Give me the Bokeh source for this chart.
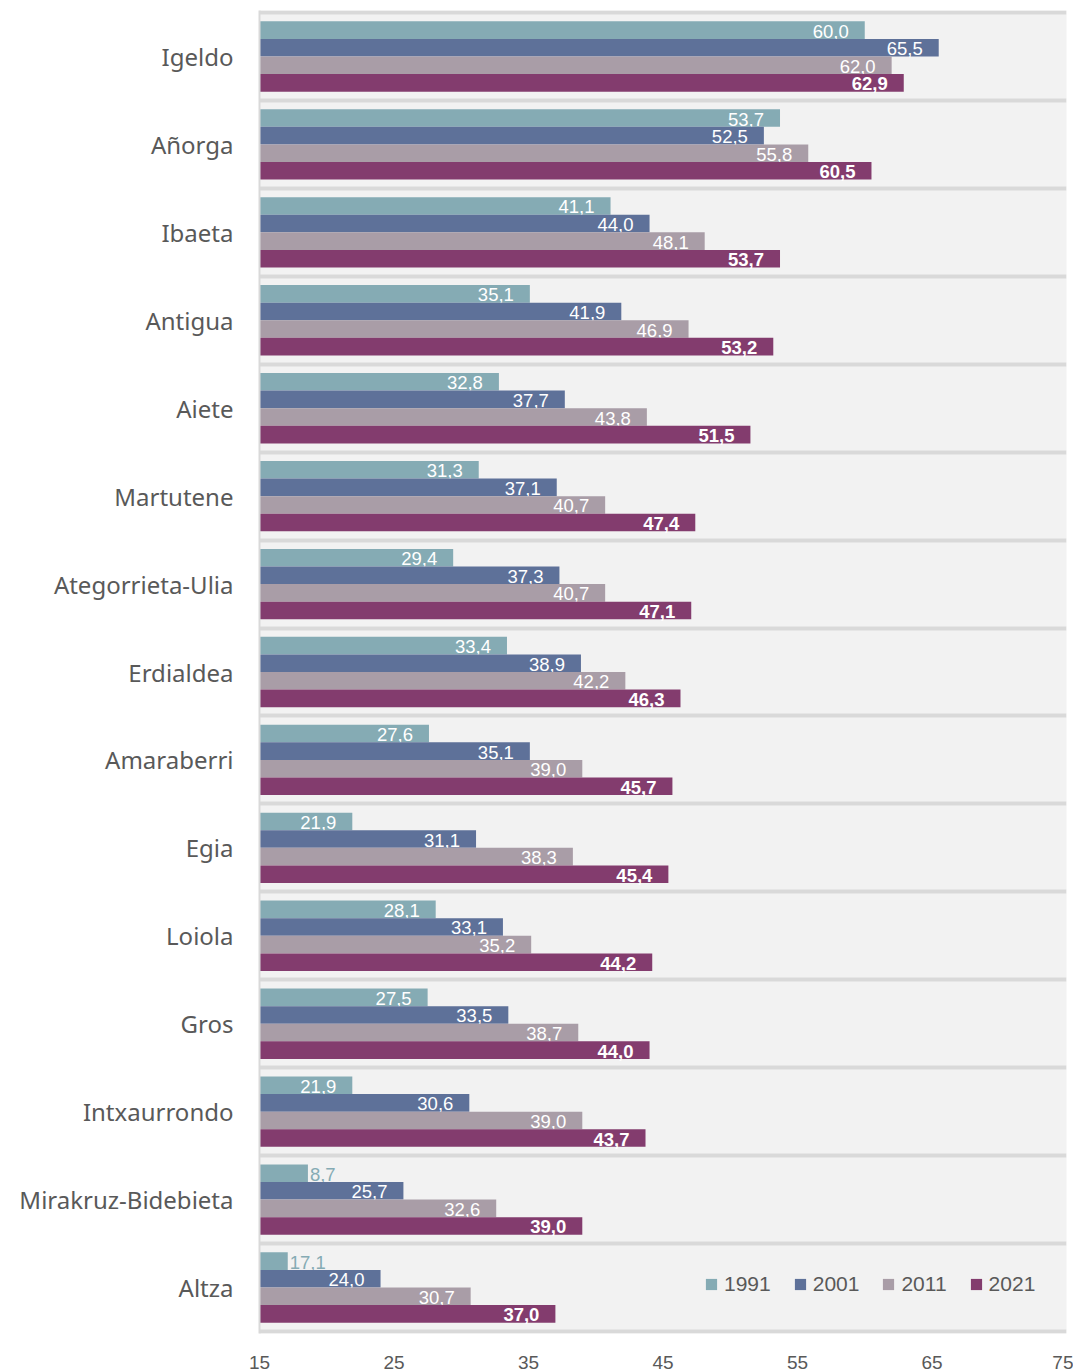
from bokeh.plotting import figure
from bokeh.models import ColumnDataSource, Range1d, FixedTicker, Legend, LegendItem
from bokeh.core.properties import value
from bokeh.embed import file_html
from bokeh.resources import INLINE

# ---------------- data (top to bottom) ----------------
neighbourhoods = ["Igeldo", "Añorga", "Ibaeta", "Antigua", "Aiete", "Martutene",
                  "Ategorrieta-Ulia", "Erdialdea", "Amaraberri", "Egia", "Loiola",
                  "Gros", "Intxaurrondo", "Mirakruz-Bidebieta", "Altza"]
years = ["1991", "2001", "2011", "2021"]

# bar lengths as drawn
v1991 = [60.0, 53.7, 41.1, 35.1, 32.8, 31.3, 29.4, 33.4, 27.6, 21.9, 28.1, 27.5, 21.9, 18.6, 17.1]
# values printed on the 1991 bars
v1991_label = [60.0, 53.7, 41.1, 35.1, 32.8, 31.3, 29.4, 33.4, 27.6, 21.9, 28.1, 27.5, 21.9, 8.7, 17.1]
v2001 = [65.5, 52.5, 44.0, 41.9, 37.7, 37.1, 37.3, 38.9, 35.1, 31.1, 33.1, 33.5, 30.6, 25.7, 24.0]
v2011 = [62.0, 55.8, 48.1, 46.9, 43.8, 40.7, 40.7, 42.2, 39.0, 38.3, 35.2, 38.7, 39.0, 32.6, 30.7]
v2021 = [62.9, 60.5, 53.7, 53.2, 51.5, 47.4, 47.1, 46.3, 45.7, 45.4, 44.2, 44.0, 43.7, 39.0, 37.0]

x_ticks = [15, 25, 35, 45, 55, 65, 75]

colors = ["#85abb4", "#5e7199", "#a99da7", "#833c6e"]
offsets = [-0.3, -0.1, 0.1, 0.3]
AXIS_MIN = 15


def fmt(v):
    return f"{v:.1f}".replace(".", ",")


n = len(neighbourhoods)
pad = 0.023

p = figure(width=1073, height=1371,
           x_range=Range1d(AXIS_MIN, 75), y_range=Range1d(n + pad, -pad),
           output_backend="svg", toolbar_location=None,
           min_border_left=259, min_border_right=7,
           min_border_top=10, min_border_bottom=37)
p.background_fill_color = "#f2f2f2"
p.border_fill_color = "white"
p.outline_line_color = None

series = [(v1991, v1991_label, False), (v2001, v2001, False),
          (v2011, v2011, False), (v2021, v2021, True)]

renderers = []
for k, (vals, labvals, bold) in enumerate(series):
    ys = [i + 0.5 + offsets[k] for i in range(n)]
    src = ColumnDataSource(dict(y=ys, right=vals, left=[AXIS_MIN] * n))
    r = p.hbar(y="y", left="left", right="right", height=0.2, source=src,
               fill_color=colors[k], line_color=None)
    renderers.append(r)

    inside = [i for i in range(n) if vals[i] - AXIS_MIN >= 4]
    outside = [i for i in range(n) if vals[i] - AXIS_MIN < 4]
    src_in = ColumnDataSource(dict(x=[vals[i] for i in inside],
                                   y=[ys[i] for i in inside],
                                   t=[fmt(labvals[i]) for i in inside]))
    p.text(x="x", y="y", text="t", source=src_in, x_offset=-16, y_offset=1,
           text_align="right", text_baseline="middle",
           text_font=value("Liberation Sans"), text_font_size="18.5px",
           text_font_style="bold" if bold else "normal", text_color="white")
    if outside:
        src_out = ColumnDataSource(dict(x=[vals[i] for i in outside],
                                        y=[ys[i] for i in outside],
                                        t=[fmt(labvals[i]) for i in outside]))
        p.text(x="x", y="y", text="t", source=src_out, x_offset=2, y_offset=1,
               text_align="left", text_baseline="middle",
               text_font=value("Liberation Sans"), text_font_size="18.5px",
               text_color=colors[k])

# ---------------- axes ----------------
yax = p.yaxis[0]
yax.ticker = FixedTicker(ticks=[i + 0.5 for i in range(n)])
yax.major_label_overrides = {i + 0.5: name for i, name in enumerate(neighbourhoods)}
yax.major_tick_line_color = None
yax.minor_tick_line_color = None
yax.axis_line_color = "#d9d9d9"
yax.axis_line_width = 2
yax.major_label_standoff = 20
yax.major_label_text_font = "Noto Sans"
yax.major_label_text_font_size = "24px"
yax.major_label_text_color = "#595959"

xax = p.xaxis[0]
xax.ticker = FixedTicker(ticks=x_ticks)
xax.major_tick_line_color = None
xax.minor_tick_line_color = None
xax.axis_line_color = None
xax.major_label_standoff = 16
xax.major_label_text_font = "Liberation Sans"
xax.major_label_text_font_size = "19px"
xax.major_label_text_color = "#595959"

p.xgrid.grid_line_color = None
p.ygrid.ticker = FixedTicker(ticks=list(range(n + 1)))
p.ygrid.grid_line_color = "#d9d9d9"
p.ygrid.grid_line_width = 4

# ---------------- legend ----------------
legend = Legend(items=[LegendItem(label=years[k], renderers=[renderers[k]]) for k in range(4)],
                orientation="horizontal", location=(445, 37),
                glyph_width=14, glyph_height=14, label_standoff=6, spacing=22,
                padding=0, margin=0, border_line_color=None,
                background_fill_alpha=0, label_text_font="Liberation Sans",
                label_text_font_size="21px", label_text_color="#595959")
p.add_layout(legend)

open("out.html", "w").write(file_html(p, INLINE))
